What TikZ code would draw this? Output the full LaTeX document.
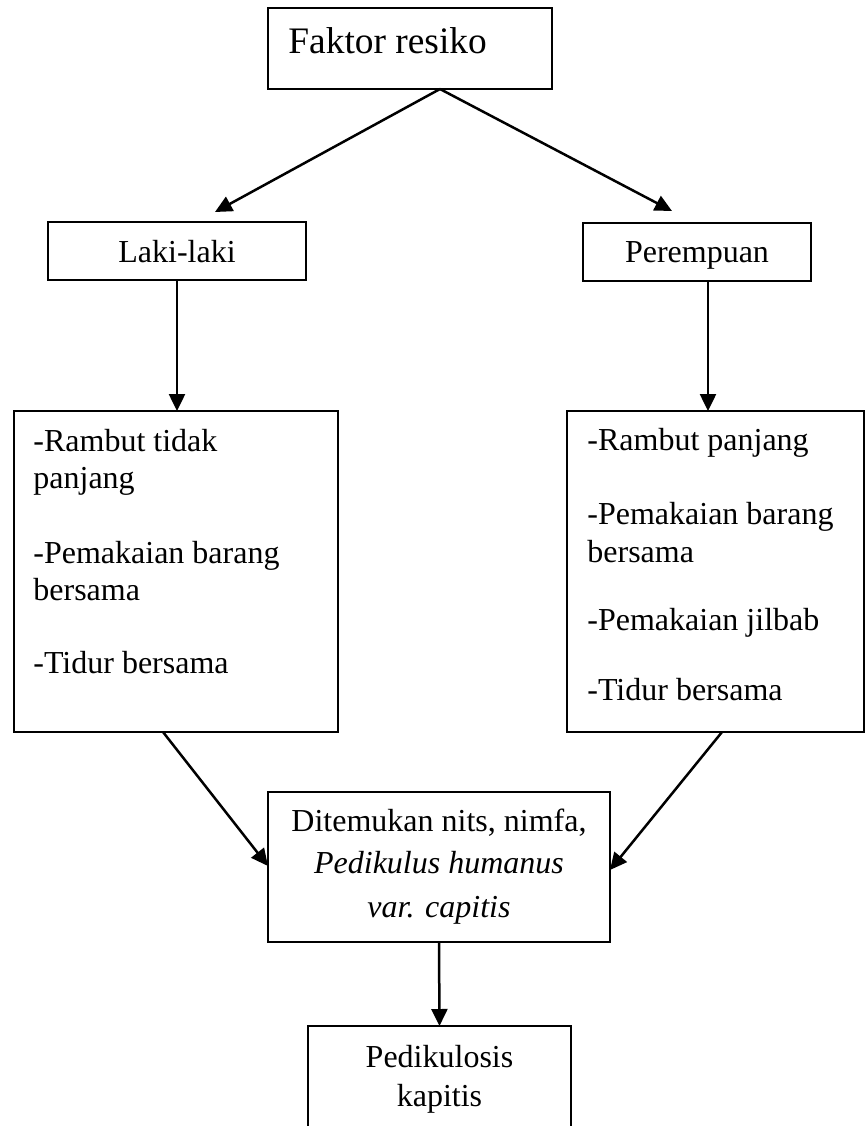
\documentclass[tikz,border=0pt]{standalone}
\usepackage{fontspec}
\setmainfont{Liberation Serif}
\usetikzlibrary{arrows.meta}
\begin{document}
\begin{tikzpicture}[x=0.5pt,y=-0.5pt,
  box/.style={draw,line width=1.25pt,inner sep=0pt,outer sep=0pt,anchor=north west},
  txt/.style={font=\fontsize{16}{18.4}\selectfont,inner sep=0pt,anchor=base west},
  ctxt/.style={font=\fontsize{16}{18.4}\selectfont,inner sep=0pt,anchor=base},
  arr/.style={line width=1.25pt,-{Triangle[length=8.5pt,width=8pt]}}]
\clip (0,0) rectangle (865,1126);
% boxes
\node[box,minimum width=142pt,minimum height=40.5pt] (top) at (268,8) {};
\node[box,minimum width=129pt,minimum height=29pt] (lk) at (48,222) {};
\node[box,minimum width=114pt,minimum height=29pt] (pr) at (583,223) {};
\node[box,minimum width=162pt,minimum height=160.5pt] (lbox) at (14,411) {};
\node[box,minimum width=148.5pt,minimum height=160.5pt] (rbox) at (567,411) {};
\node[box,minimum width=171pt,minimum height=75pt] (mid) at (268,792) {};
\node[box,minimum width=131.5pt,minimum height=60pt] (bot) at (308,1026) {};
% texts
\node[txt,font=\fontsize{18.7}{21.5}\selectfont] (ttop) at (288,53) {Faktor resiko};
\node[ctxt] (tlk) at (177,262) {Laki-laki};
\node[ctxt] (tpr) at (697,262) {Perempuan};
\node[txt] (l1) at (33,451) {-Rambut tidak};
\node[txt] (l2) at (33,488) {panjang};
\node[txt] (l3) at (33,563) {-Pemakaian barang};
\node[txt] (l4) at (33,600) {bersama};
\node[txt] (l5) at (33,673) {-Tidur bersama};
\node[txt] (r1) at (587,450) {-Rambut panjang};
\node[txt] (r2) at (587,524) {-Pemakaian barang};
\node[txt] (r3) at (587,562) {bersama};
\node[txt] (r4) at (587,630) {-Pemakaian jilbab};
\node[txt] (r5) at (587,700) {-Tidur bersama};
\node[ctxt] (m1) at (439,831) {Ditemukan nits, nimfa,};
\node[ctxt] (m2) at (439,873) {\itshape Pedikulus humanus};
\node[ctxt] (m3) at (439,917) {\itshape var. capitis};
\node[ctxt] (b1) at (439.5,1067) {Pedikulosis};
\node[ctxt] (b2) at (439.5,1106) {kapitis};
% connector end points
\coordinate (apex) at (440,89);
\coordinate (tl) at (215,212);
\coordinate (tr) at (672,211);
\coordinate (prv) at (708,281);
\coordinate (ls) at (163,732);
\coordinate (ml) at (268,866);
\coordinate (rs) at (722,732);
\coordinate (mr) at (610,870);
% connectors
\draw[arr] (apex) -- (tl);
\draw[arr] (apex) -- (tr);
\draw[arr] (lk.south) -- (lk.south |- lbox.north);
\draw[arr] (prv) -- (prv |- rbox.north);
\draw[arr] (ls) -- (ml);
\draw[arr] (rs) -- (mr);
\draw[arr] (mid.south) -- (bot.north);
\end{tikzpicture}
\end{document}
